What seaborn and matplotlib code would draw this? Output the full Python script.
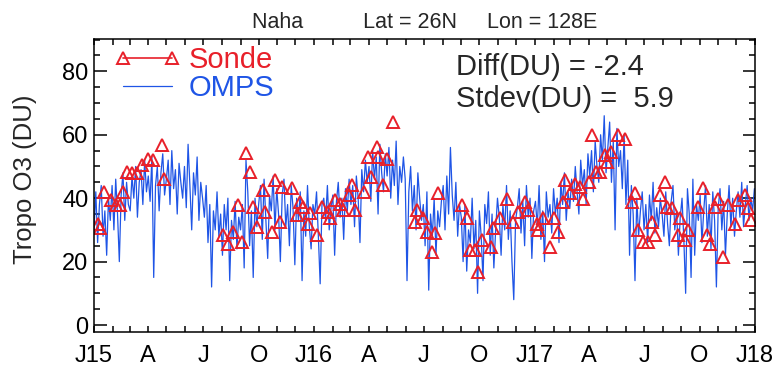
import pandas as pd
import numpy as np
import seaborn as sns
import matplotlib.pyplot as plt
import matplotlib.dates as mdates
from matplotlib.lines import Line2D
from matplotlib.ticker import MultipleLocator

# OMPS tropospheric column, one value every 3 days
omps_2015 = [30, 42, 26, 38, 44, 28, 36, 22, 40, 33,
             44, 30, 46, 35, 20, 41, 48, 33, 45, 38,
             36, 47, 40, 50, 34, 45, 49, 38, 52, 42,
             47, 39, 53, 15, 44, 50, 36, 48, 54, 41,
             46, 52, 38, 55, 43, 49, 35, 51, 45, 40,
             50, 37, 57, 44, 30, 48, 41, 53, 33, 45,
             40, 34, 44, 26, 38, 12, 36, 30, 42, 28,
             35, 22, 38, 30, 40, 14, 33, 27, 39, 24, 34,
             30, 38, 18, 52, 42, 25, 36, 15, 40, 31,
             38, 44, 27, 46, 33, 21, 41, 36, 47, 30,
             43, 35, 20, 41, 46, 31, 38, 25, 44, 37, 19,
             40, 33, 42, 14, 36, 28, 44, 31, 24, 38]
omps_2016 = [35, 42, 28, 13, 38, 40, 33, 44, 30, 37,
             41, 22, 39, 45, 34, 40, 27, 43, 36, 46,
             38, 44, 31, 47, 40, 26, 49, 42, 52, 45,
             50, 39, 55, 46, 53, 35, 57, 48, 42, 54,
             47, 56, 40, 52, 44, 58, 38, 50, 45, 53,
             46, 14, 42, 50, 36, 44, 30, 48, 40, 33,
             38, 25, 42, 11, 35, 28, 40, 22, 36, 31,
             39, 44, 30, 47, 35, 56, 41, 33, 45, 28, 38,
             34, 20, 38, 17, 30, 26, 40, 24, 33, 10,
             36, 28, 14, 38, 32, 42, 22, 35, 18, 30,
             40, 34, 22, 38, 30, 44, 27, 36, 20, 8, 33,
             37, 43, 29, 39, 25, 44, 34, 40, 21, 36]
omps_2017 = [39, 31, 44, 27, 36, 20, 42, 34, 38, 29,
             43, 35, 40, 26, 45, 38, 48, 33, 42, 37,
             46, 39, 50, 42, 35, 52, 44, 49, 38, 54,
             47, 55, 42, 58, 50, 45, 60, 52, 66, 48,
             56, 64, 45, 58, 30, 62, 50, 55, 43, 60,
             38, 52, 22, 44, 35, 14, 40, 28, 36, 42,
             30, 38, 26, 41, 33, 45, 29, 37, 31, 40,
             35, 28, 42, 32, 25, 39, 44, 30, 36, 22, 34,
             40, 27, 10, 43, 35, 15, 46, 22, 38, 33,
             41, 26, 36, 44, 28, 38, 24, 42, 33, 12,
             37, 43, 30, 39, 22, 35, 44, 31, 40, 28, 36,
             42, 34, 45, 31, 38, 44, 33, 40, 36, 43]

# ozonesonde launches: days since 1 Jan 2015 and column (DU)
sonde_day = [7, 10, 17, 29, 36, 43, 48, 54, 63, 71, 79, 90, 98, 112, 116,
             214, 223, 231, 239, 245, 252, 259, 264, 271, 280,
             284, 295, 300, 308, 311, 328, 336, 342, 347, 355, 358, 369, 378,
             388, 391, 400, 408, 413, 422, 427, 433, 447, 455, 460, 469, 471,
             480, 485, 496,
             532, 535, 546, 552, 560, 565, 571,
             610, 618, 623, 632, 637, 643, 659, 662, 673, 684, 695, 703, 715,
             720, 734, 737, 745, 756, 762, 770, 778, 781, 789, 797, 806, 811,
             820, 825, 833, 839, 847,
             850, 858, 869, 880, 892, 897, 902, 911, 919, 925, 930, 938, 947,
             950, 958, 969, 972, 980, 985, 1002, 1010, 1016, 1021, 1030, 1035,
             1043, 1052, 1063, 1068, 1079, 1085, 1090]
sonde_o3 = [32.0, 30.6, 41.9, 39.4, 37.8, 37.8, 41.9, 48.3, 47.8, 47.8, 50.4, 52.5, 52.0, 56.7, 46.2,
            28.4, 25.7, 29.4, 37.8, 26.2, 54.1, 48.3, 37.3, 31.0, 42.5,
            35.7, 29.4, 45.7, 32.5, 43.6, 43.1, 34.7, 38.8, 37.3, 32.0, 35.2, 28.4, 37.3,
            35.7, 33.6, 39.4, 38.3, 36.2, 41.0, 44.1, 36.2, 42.0, 53.0, 46.7, 56.2, 53.0,
            44.1, 52.5, 64.0,
            32.5, 36.2, 33.6, 29.4, 23.1, 28.9, 41.5,
            37.8, 33.6, 23.6, 23.6, 16.8, 26.8, 24.7, 30.5, 33.6, 39.9, 32.5, 35.7, 38.8,
            36.2, 32.0, 29.9, 33.6, 24.7, 33.6, 29.4, 38.8, 45.7, 41.5, 44.6, 43.6, 39.9,
            45.1, 59.9, 48.3, 48.3, 53.6,
            51.4, 54.6, 59.9, 58.8, 38.8, 41.5, 29.9, 26.2, 26.2, 32.5, 28.4, 41.0, 45.1,
            37.3, 36.8, 28.4, 33.6, 26.8, 29.9, 37.3, 43.1, 28.4, 25.7, 37.3, 39.9,
            21.5, 37.8, 32.0, 39.4, 41.0, 36.8, 33.1]

xtick_labels = ['J15', 'A', 'J', 'O', 'J16', 'A', 'J', 'O', 'J17', 'A', 'J', 'O', 'J18']
diff_du = -2.4
stdev_du = 5.9

red = '#e8202a'
blue = '#1f55e6'

sns.set_style('ticks')
plt.rcParams['font.family'] = ['Liberation Sans', 'DejaVu Sans']

start = pd.Timestamp('2015-01-01')
omps = pd.DataFrame({'date': pd.date_range(start, periods=366, freq='3D'),
                     'o3': omps_2015 + omps_2016 + omps_2017})
sonde = pd.DataFrame({'date': start + pd.to_timedelta(sonde_day, unit='D'),
                      'o3': sonde_o3})

fig = plt.figure(figsize=(7.82, 3.69), dpi=100)
ax = fig.add_axes([94 / 782, 1 - 332 / 369, 661 / 782, 293 / 369])

sns.lineplot(data=omps, x='date', y='o3', color=blue, linewidth=0.9, ax=ax)
sns.lineplot(data=sonde, x='date', y='o3', color=red, marker='^', linestyle='none',
             mfc='none', mec=red, ms=8.5, mew=1.4, ax=ax)

ax.set_xlim(start, pd.Timestamp('2018-01-01'))
ax.set_ylim(-2.2, 90.2)
ax.set_xticks(pd.date_range(start, '2018-01-01', freq='QS'))
ax.set_xticklabels(xtick_labels)
ax.xaxis.set_minor_locator(mdates.MonthLocator())
ax.yaxis.set_major_locator(MultipleLocator(20))
ax.yaxis.set_minor_locator(MultipleLocator(5))

ax.tick_params(axis='both', which='both', direction='in', top=True, right=True,
               width=1.1, labelsize=17, colors='black')
ax.tick_params(axis='y', which='major', length=9, pad=4)
ax.tick_params(axis='y', which='minor', length=4.5)
ax.tick_params(axis='x', which='both', length=4.5, pad=9)
for sp in ax.spines.values():
    sp.set_linewidth(1.1)
    sp.set_color('black')

ax.set_xlabel('')
ax.set_ylabel('Tropo O3 (DU)', fontsize=18.5)
ax.yaxis.set_label_coords(-0.086, 0.52)
ax.set_title('Naha          Lat = 26N     Lon = 128E', fontsize=15.5, pad=8)

handles = [Line2D([], [], color=red, marker='^', mfc='none', mec=red, ms=8.5, mew=1.4, lw=1.2),
           Line2D([], [], color=blue, lw=0.9)]
leg = ax.legend(handles, ['Sonde', 'OMPS'], loc='upper left', bbox_to_anchor=(0.03, 0.975),
                frameon=False, fontsize=21, numpoints=2, handlelength=2.3,
                handletextpad=0.25, labelspacing=0.0, borderaxespad=0, borderpad=0)
for t, c in zip(leg.get_texts(), [red, blue]):
    t.set_color(c)

ax.text(0.548, 0.905, f'Diff(DU) = {diff_du:.1f}', transform=ax.transAxes,
        fontsize=21, va='center', ha='left')
ax.text(0.548, 0.795, f'Stdev(DU) =  {stdev_du:.1f}', transform=ax.transAxes,
        fontsize=21, va='center', ha='left')

fig.savefig('out.png', dpi=100)
